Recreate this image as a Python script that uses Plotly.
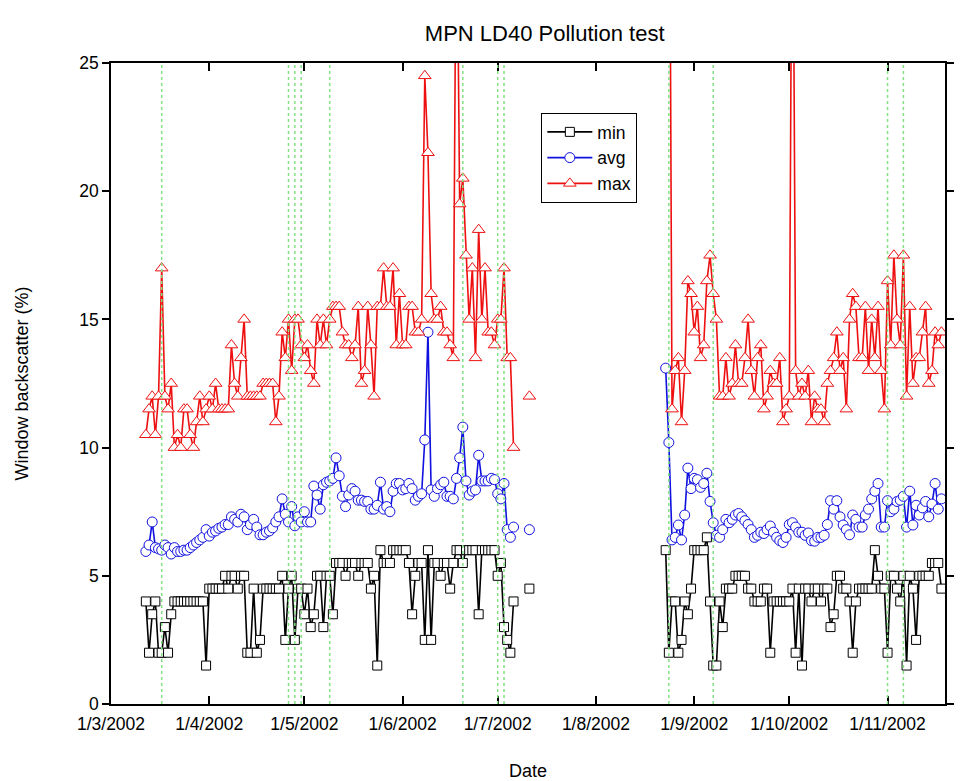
import pandas as pd
import plotly.graph_objects as go

# ---------------- data ----------------
seg1_start = "2002-03-12"
min_seg1 = [4, 2, 3.5, 4, 2, 2, 3, 2, 3.5, 4,
            4, 4, 4, 4, 4, 4, 4, 4, 4, 1.5,
            4.5, 4.5, 4.5, 4.5, 4.5, 5, 4.5, 5, 5, 4.5,
            5, 5, 2, 2, 4.5, 2, 2.5, 4.5, 4.5, 4.5,
            4.5, 4.5, 4.5, 5, 2.5, 4.5, 5, 2.5, 4.5, 4.5,
            3.5, 4.5, 3, 3.5, 5, 5, 3, 5, 5, 3.5,
            5.5, 5.5, 5.5, 5, 5.5, 5.5, 5.5, 5, 5.5, 5.5,
            5.5, 4.5, 5, 1.5, 6, 5.5, 5.5, 5.5, 6, 6,
            6, 6, 6, 5.5, 3.5, 5, 5.5, 5.5, 2.5, 6,
            2.5, 5.5, 5.5, 5, 5.5, 5.5, 4.5, 5.5, 6, 6,
            5.5, 6, 6, 6, 6, 3.5, 6, 6, 6, 6,
            6, 5, 5.5, 3, 2.5, 2, 4]
avg_seg1 = [5.95, 6.2, 7.1, 6.1, 6.05, 6.0, 6.2, 6.1, 5.85, 6.1,
            5.95, 5.95, 6.0, 6.0, 6.1, 6.2, 6.3, 6.4, 6.5, 6.8,
            6.55, 6.7, 6.75, 6.85, 6.9, 7.0, 7.0, 7.3, 7.2, 7.1,
            7.4, 7.3, 6.8, 7.0, 7.2, 6.9, 6.6, 6.6, 6.7, 6.75,
            6.87, 7.1, 7.3, 8.0, 7.4, 7.1, 7.7, 6.95, 7.3, 7.1,
            7.5, 7.1, 7.1, 8.5, 8.15, 7.6, 8.55, 8.65, 8.7, 8.8,
            9.6, 8.9, 8.1, 7.7, 8.15, 8.4, 8.3, 7.95, 7.95, 7.9,
            7.9, 7.6, 7.6, 7.75, 8.65, 7.6, 7.7, 7.5, 8.3, 8.6,
            8.6, 8.35, 8.4, 8.6, 8.4, 7.95, 8.1, 8.2, 10.3, 14.5,
            8.35, 8.1, 8.4, 8.55, 8.65, 8.1, 8.1, 8.0, 8.8, 9.6,
            10.8, 8.7, 8.15, 8.3, 8.35, 9.7, 8.7, 8.7, 8.7, 8.8,
            8.75, 8.2, 8.0, 8.6, 6.8, 6.5, 6.9]
max_seg1 = [10.5, 11.5, 12, 10.5, 12, 17, 12, 11.5, 12.5, 10,
            10.5, 10, 11.5, 11.5, 10.5, 10, 11, 12, 11, 11.5,
            12, 11.5, 12.5, 11.5, 11.5, 11.5, 11.5, 14, 12.5, 12,
            13.5, 15, 12, 12, 12, 12, 12, 12.5, 12.5, 12.5,
            12.5, 11, 12, 14.5, 13.5, 15, 13, 15, 15, 14,
            13.5, 14, 13, 12.5, 15, 14, 15, 14, 15, 15.5,
            15.5, 15.5, 14.5, 14, 14, 13.5, 14, 15.5, 12.5, 13,
            15.5, 14, 12, 15.5, 15.5, 17, 15.5, 15.5, 17, 14,
            16, 14, 14, 15.5, 15.5, 14.5, 14.5, 15, 24.5, 21.5,
            16, 15, 15, 15.5, 14.5, 14.5, 14, 13.5, 33, 19.5,
            20.5, 17.5, 15, 17, 13.5, 18.5, 15, 17, 14.5, 14.5,
            14, 15, 15, 17, 13.5, 13.5, 10]

lone_date = "2002-07-11"
min_lone, avg_lone, max_lone = 4.5, 6.8, 12

seg2_start = "2002-08-23"
min_seg2 = [6, 2, 4, 4, 2, 2.5, 4, 3.5, 4.5, 6,
            6, 6, 6, 6.5, 4, 1.5, 1.5, 4, 3, 4.5,
            4.5, 4.5, 5, 5, 5, 5, 4.5, 4.5, 4, 4,
            4, 4.5, 4.5, 2, 4, 4, 4, 4, 4, 4,
            4.5, 2, 4.5, 1.5, 4.5, 4.5, 4, 4.5, 4.5, 4,
            4.5, 4.5, 3, 3.5, 5, 5, 4.5, 4.5, 4, 2,
            4, 4.5, 4.5, 4.5, 4.5, 4.5, 6, 5, 4.5, 4.5,
            2, 5, 5, 4.5, 4, 5, 1.5, 5, 4.5, 2.5,
            5, 5, 5, 5, 5.5, 5.5, 5.5, 4.5]
avg_seg2 = [13.1, 10.2, 6.4, 6.5, 6.98, 6.4, 7.37, 9.2, 8.4, 8.8,
            8.75, 8.45, 8.6, 9.0, 7.9, 7.07, 6.58, 6.5, 6.8, 7.2,
            7.07, 7.2, 7.37, 7.43, 7.3, 7.15, 7.0, 6.8, 6.5, 6.58,
            6.7, 6.65, 6.8, 6.94, 6.7, 6.5, 6.37, 6.3, 6.5, 7.0,
            7.07, 6.9, 6.7, 6.7, 6.58, 6.67, 6.37, 6.35, 6.5, 6.5,
            6.58, 7.0, 7.93, 7.6, 7.93, 7.3, 6.98, 6.8, 6.6, 7.37,
            7.2, 6.9, 6.9, 7.37, 7.6, 8.0, 8.3, 8.6, 6.9, 6.9,
            7.93, 7.5, 7.6, 7.9, 7.95, 8.1, 6.9, 8.3, 6.98, 7.75,
            7.37, 7.65, 7.9, 7.3, 7.8, 8.6, 7.6, 8.0]
max_seg2 = [45, 40, 11.5, 13, 13.5, 11, 13, 16.5, 16, 14.5,
            15.5, 13.5, 14, 16.5, 17.5, 16, 15, 12, 12, 13.5,
            12, 12.5, 14, 12.5, 12.5, 13.5, 15, 13, 12, 13.5,
            14, 11.5, 12, 13, 12.5, 12.5, 13.5, 11, 11.5, 12,
            36, 13, 12, 12.5, 12, 13, 11, 12, 11.5, 11.5,
            11, 12.5, 13, 13.5, 14.5, 13, 13.5, 11.5, 15, 16,
            15.5, 13.5, 13.5, 15.5, 13, 15, 13.5, 15.5, 13, 11.5,
            16.5, 14, 17.5, 15, 14, 17.5, 12, 15.5, 12.5, 13.5,
            13.5, 14.5, 15.5, 12.5, 13, 14.5, 14, 14.5]

event_dates = ["2002-03-17", "2002-04-26", "2002-04-28", "2002-04-30",
               "2002-05-09", "2002-06-20", "2002-07-01", "2002-07-03",
               "2002-08-24", "2002-09-07", "2002-11-01", "2002-11-06"]

tick_dates = ["2002-03-01", "2002-04-01", "2002-05-01", "2002-06-01",
              "2002-07-01", "2002-08-01", "2002-09-01", "2002-10-01",
              "2002-11-01"]
tick_labels = ["1/3/2002", "1/4/2002", "1/5/2002", "1/6/2002", "1/7/2002",
               "1/8/2002", "1/9/2002", "1/10/2002", "1/11/2002"]
y_ticks = [0, 5, 10, 15, 20, 25]

# ---------------- build ----------------
def series(v1, vlone, v2):
    d1 = list(pd.date_range(seg1_start, periods=len(v1), freq="D"))
    d2 = list(pd.date_range(seg2_start, periods=len(v2), freq="D"))
    x = d1 + [None, pd.Timestamp(lone_date), None] + d2
    y = list(v1) + [None, vlone, None] + list(v2)
    return x, y

FONT = "Liberation Sans, Arial, sans-serif"
fig = go.Figure()
specs = [
    ("min", min_seg1, min_lone, min_seg2, "black", "square", 9),
    ("avg", avg_seg1, avg_lone, avg_seg2, "#1010e0", "circle", 10),
    ("max", max_seg1, max_lone, max_seg2, "#ee1010", "triangle-up", 11),
]
for name, a, b, c, col, sym, sz in specs:
    x, y = series(a, b, c)
    fig.add_trace(go.Scatter(
        x=x, y=y, name=name, mode="lines+markers",
        line=dict(color=col, width=1.6),
        marker=dict(symbol=sym, size=sz, color="white",
                    line=dict(color=col, width=1)),
    ))

for d in event_dates:
    fig.add_shape(type="line", xref="x", yref="paper", x0=d, x1=d, y0=0, y1=1,
                  line=dict(color="rgb(130,225,130)", width=1.5, dash="dot"),
                  layer="above")

fig.update_layout(
    width=973, height=781,
    margin=dict(l=111, r=28, t=63, b=77, autoexpand=False),
    paper_bgcolor="white", plot_bgcolor="white",
    font=dict(family=FONT, size=17.5, color="black"),
    title=dict(text="MPN LD40 Pollution test", x=0.52, xref="paper",
               xanchor="center", y=1 - 33 / 781, yref="container",
               yanchor="middle", font=dict(size=22)),
    legend=dict(x=0.516, y=0.922, xanchor="left", yanchor="top",
                bgcolor="white", bordercolor="black", borderwidth=1,
                font=dict(size=17.5), tracegroupgap=0, itemwidth=45),
    showlegend=True,
)
fig.update_xaxes(
    range=["2002-03-01", "2002-11-19 03:00"], automargin=False,
    tickmode="array", tickvals=tick_dates, ticktext=tick_labels,
    ticks="inside", ticklen=8, tickwidth=1.5, tickcolor="black",
    ticklabelstandoff=3,
    showline=True, linecolor="black", linewidth=1.5, mirror="ticks",
    showgrid=False, zeroline=False,
    title=dict(text="Date", standoff=32, font=dict(size=18)),
)
fig.update_yaxes(
    range=[0, 25], tickmode="array", tickvals=y_ticks, automargin=False,
    ticks="outside", ticklen=7, tickwidth=1.5, tickcolor="black",
    showline=True, linecolor="black", linewidth=1.5, mirror="ticks",
    showgrid=False, zeroline=False,
    title=dict(text="Window backscatter (%)", standoff=46, font=dict(size=18)),
)
fig.write_html("out.html")
